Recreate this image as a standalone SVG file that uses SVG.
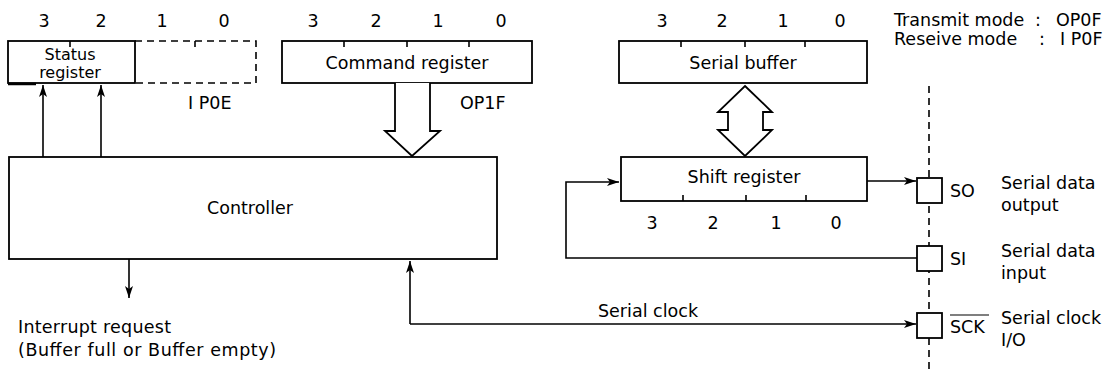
<svg xmlns="http://www.w3.org/2000/svg" width="1110" height="370" viewBox="0 0 1110 370">
<defs>
<style>
text{font-family:"DejaVu Sans","Liberation Sans",sans-serif;font-size:17.5px;fill:#000}
.c{text-anchor:middle}
.sm{font-size:16px}
.box{fill:#fff;stroke:#000;stroke-width:1.8}
.ln{fill:none;stroke:#000;stroke-width:1.6}
.dash{fill:none;stroke:#000;stroke-width:1.6;stroke-dasharray:7 5}
.tick{stroke:#000;stroke-width:1.6}
.hollow{fill:#fff;stroke:#000;stroke-width:1.8;stroke-linejoin:miter}
</style>
<marker id="ah" viewBox="0 0 12 8" refX="12" refY="4" markerWidth="12" markerHeight="8" markerUnits="userSpaceOnUse" orient="auto">
<path d="M0,0 L12,4 L0,8 L3,4 Z" fill="#000"/>
</marker>
</defs>
<rect width="1110" height="370" fill="#fff"/>

<!-- dashed pin line -->
<line class="dash" x1="929" y1="86" x2="929" y2="370"/>

<g id="status-register">
<text class="c" x="44" y="27">3</text><text class="c" x="101" y="27">2</text><text class="c" x="162" y="27">1</text><text class="c" x="224" y="27">0</text>
<rect class="box" x="8" y="41" width="127" height="42"/>
<path class="dash" d="M135,41 H256 V83 H135"/>
<line class="tick" x1="70" y1="41" x2="70" y2="47"/>
<line class="tick" x1="195" y1="41" x2="195" y2="47"/>
<line x1="8" y1="84" x2="36" y2="84" stroke="#000" stroke-width="2.5"/>
<text class="c sm" x="70" y="60">Status</text>
<text class="c sm" x="70" y="78">register</text>
<text x="188" y="109">I P0E</text>
</g>

<g id="command-register">
<text class="c" x="313" y="27">3</text><text class="c" x="376" y="27">2</text><text class="c" x="438" y="27">1</text><text class="c" x="501" y="27">0</text>
<rect class="box" x="282" y="41" width="250" height="42"/>
<line class="tick" x1="344" y1="41" x2="344" y2="47"/>
<line class="tick" x1="407" y1="41" x2="407" y2="47"/>
<line class="tick" x1="469" y1="41" x2="469" y2="47"/>
<text class="c" x="407" y="69">Command register</text>
<text x="460" y="109">OP1F</text>
</g>

<g id="serial-buffer">
<text class="c" x="662" y="27">3</text><text class="c" x="722" y="27">2</text><text class="c" x="783" y="27">1</text><text class="c" x="840" y="27">0</text>
<rect class="box" x="619" y="41" width="248" height="42"/>
<line class="tick" x1="681" y1="41" x2="681" y2="47"/>
<line class="tick" x1="745" y1="41" x2="745" y2="47"/>
<line class="tick" x1="805" y1="41" x2="805" y2="47"/>
<text class="c" x="743" y="69">Serial buffer</text>
</g>

<g id="mode-note">
<text x="894" y="26">Transmit mode</text><text x="1035" y="26">:</text><text x="1056" y="26">OP0F</text>
<text x="894" y="45">Reseive mode</text><text x="1039" y="45">:</text><text x="1060" y="45">I P0F</text>
</g>

<g id="controller">
<rect class="box" x="9" y="157" width="488" height="102"/>
<text class="c" x="250" y="214">Controller</text>
</g>

<g id="shift-register">
<rect class="box" x="621" y="157" width="246" height="44"/>
<line class="tick" x1="683" y1="195" x2="683" y2="201"/>
<line class="tick" x1="746" y1="195" x2="746" y2="201"/>
<line class="tick" x1="806" y1="195" x2="806" y2="201"/>
<text class="c" x="744" y="183">Shift register</text>
<text class="c" x="652" y="229">3</text><text class="c" x="713" y="229">2</text><text class="c" x="776" y="229">1</text><text class="c" x="836" y="229">0</text>
</g>

<g id="pin-so">
<rect class="box" x="917" y="178" width="25" height="25"/>
<text x="950" y="197">SO</text>
<text x="1001" y="189">Serial data</text>
<text x="1001" y="211">output</text>
</g>

<g id="pin-si">
<rect class="box" x="917" y="246" width="25" height="25"/>
<text x="950" y="265">SI</text>
<text x="1001" y="257">Serial data</text>
<text x="1001" y="279">input</text>
</g>

<g id="pin-sck">
<rect class="box" x="917" y="313" width="25" height="25"/>
<text x="950" y="333">SCK</text>
<line x1="950" y1="315" x2="989" y2="315" stroke="#000" stroke-width="1.2"/>
<text x="1001" y="324">Serial clock</text>
<text x="1001" y="346">I/O</text>
</g>

<g id="interrupt-label">
<text x="18" y="333" textLength="153" lengthAdjust="spacing">Interrupt request</text>
<text x="18" y="356" textLength="258" lengthAdjust="spacing">(Buffer full or Buffer empty)</text>
</g>

<g id="connectors">
<line class="ln" x1="43" y1="157" x2="43" y2="85" marker-end="url(#ah)"/>
<line class="ln" x1="101" y1="157" x2="101" y2="85" marker-end="url(#ah)"/>
<path class="hollow" d="M395,83 V131 H385 L412,156 L440,131 H430 V83"/>
<path class="hollow" d="M745,86 L772,112 H763 V130 H772 L745,156 L718,130 H728 V112 H718 Z"/>
<line class="ln" x1="129" y1="259" x2="129" y2="298" marker-end="url(#ah)"/>
<line class="ln" x1="867" y1="181" x2="916" y2="181" marker-end="url(#ah)" stroke-width="1.2"/>
<path class="ln" d="M917,258 H566 V182 H619" marker-end="url(#ah)"/>
<path class="ln" d="M410,324 V261" marker-end="url(#ah)"/>
<path class="ln" d="M410,324 H916" marker-end="url(#ah)"/>
<text class="c" x="648" y="317">Serial clock</text>
</g>
</svg>
